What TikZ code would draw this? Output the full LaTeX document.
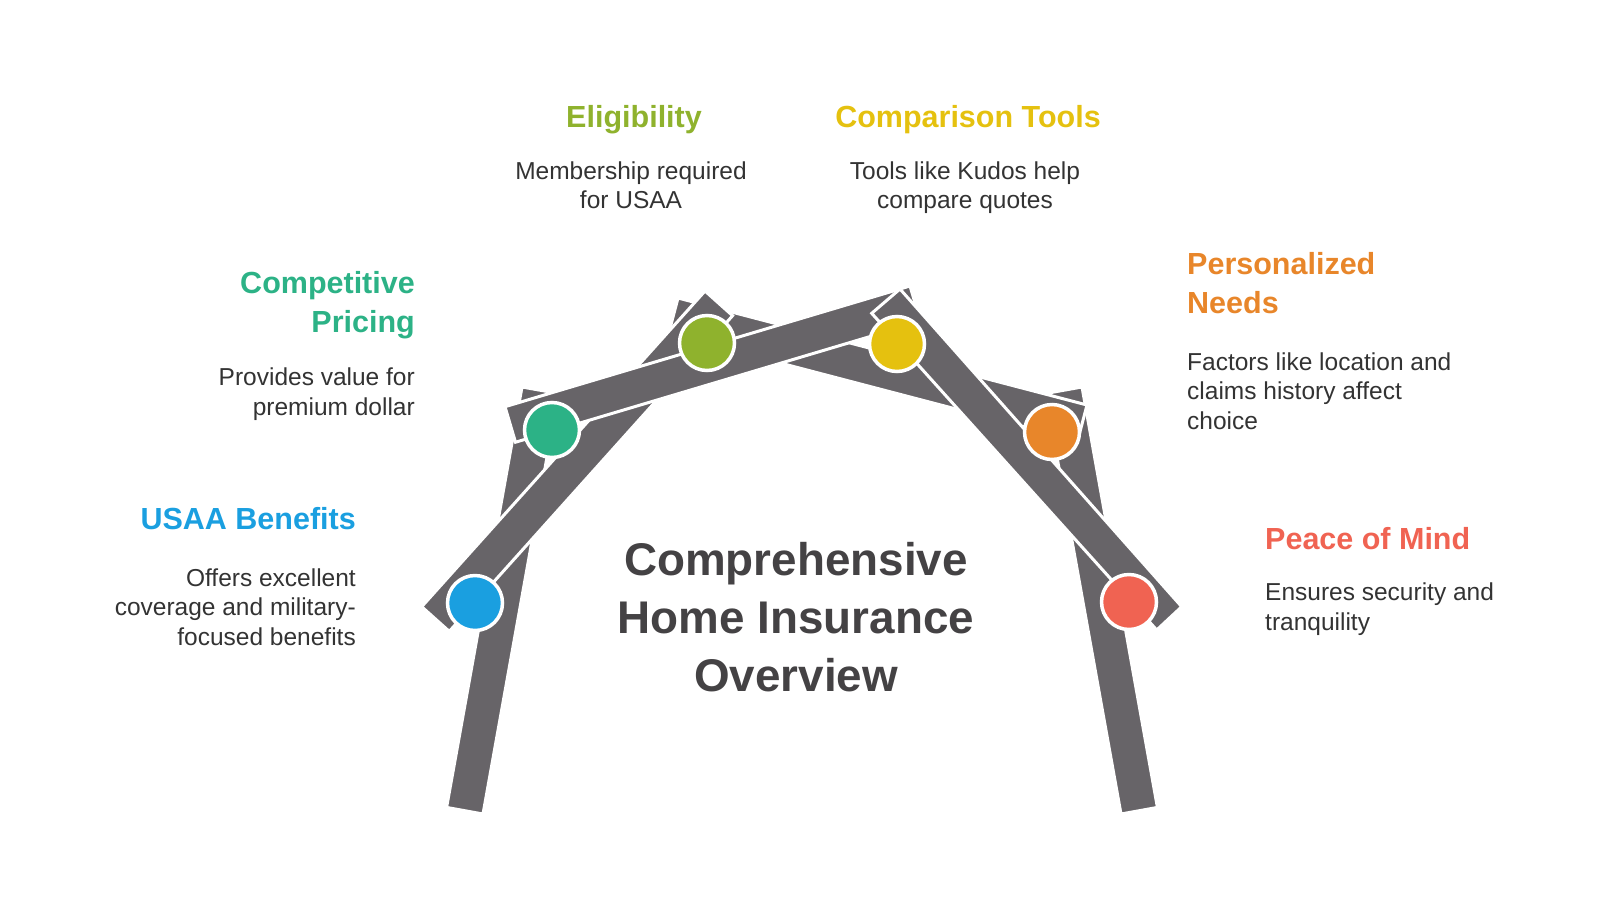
\documentclass[tikz,border=0pt]{standalone}
\usepackage{fontspec}
\setmainfont{Liberation Sans}
\usepackage{xcolor}
\usepackage{tikz}
\usetikzlibrary{positioning,calc}

\definecolor{barGray}{RGB}{103,100,104}
\definecolor{textGray}{RGB}{51,51,51}
\definecolor{titleGray}{RGB}{68,66,68}
\definecolor{cBlue}{RGB}{26,159,224}
\definecolor{cGreen}{RGB}{44,178,134}
\definecolor{cOlive}{RGB}{143,178,45}
\definecolor{cYellow}{RGB}{229,193,15}
\definecolor{cOrange}{RGB}{232,134,42}
\definecolor{cRed}{RGB}{240,99,82}

\begin{document}
\begin{tikzpicture}[x=1pt, y=-1pt,
    bar/.style={fill=barGray, draw=white, line width=3pt, line join=miter},
    dot/.style={circle, draw=white, line width=3.5pt, minimum size=55pt, inner sep=0pt},
    head/.style={font=\fontsize{30.5}{39}\selectfont\bfseries, inner sep=0pt},
    desc/.style={font=\fontsize{24.5}{29.3}\selectfont, text=textGray, inner sep=0pt}]
    \useasboundingbox (0,0) rectangle (1600,900);

    % Legs
    \draw[bar] (522,387) -- (558.4,393.5) -- (483,814) -- (446.6,807.4) -- cycle;
    \draw[bar] (1082,387) -- (1045.6,393.5) -- (1121,814) -- (1157.4,807.4) -- cycle;

    % Roof beams
    \draw[bar] (678,298) -- (1087,405) -- (1077.6,440.8) -- (668.6,333.8) -- cycle;
    \draw[bar] (421.7,606.7) -- (705,291) -- (732.6,315.7) -- (449.3,631.4) -- cycle;
    \draw[bar] (505,406.7) -- (910,286) -- (920.5,321.5) -- (515.5,442.2) -- cycle;
    \draw[bar] (900,289) -- (1181.7,606.7) -- (1156.7,630) -- (871.7,313.3) -- cycle;

    % Joints
    \node[dot, fill=cBlue] (benefits) at (475,603) {};
    \node[dot, fill=cGreen] (pricing) at (552,430) {};
    \node[dot, fill=cOlive] (eligibility) at (707,343) {};
    \node[dot, fill=cYellow] (tools) at (897,344) {};
    \node[dot, fill=cOrange] (needs) at (1052,432) {};
    \node[dot, fill=cRed] (peace) at (1129,602) {};

    % Title (base = last line)
    \node[font=\fontsize{45.8}{58.3}\selectfont\bfseries, text=titleGray, align=center, anchor=base, inner sep=0pt]
        (title) at (796,691.7) {Comprehensive\\Home Insurance\\Overview};

    % Labels
    \node[head, text=cOlive, anchor=base] (eligHead) at (634,127.5) {Eligibility};
    \node[desc, align=center, anchor=base] (eligText) at (631,208.5) {Membership required\\for USAA};

    \node[head, text=cYellow, anchor=base] (toolsHead) at (968,127.5) {Comparison Tools};
    \node[desc, align=center, anchor=base] (toolsText) at (965,208.5) {Tools like Kudos help\\compare quotes};

    \node[head, text=cGreen, align=right, anchor=base east] (pricingHead) at (415,332) {Competitive\\Pricing};
    \node[desc, align=right, anchor=base east] (pricingText) at (415,415) {Provides value for\\premium dollar};

    \node[head, text=cBlue, anchor=base east] (benefitsHead) at (356,529) {USAA Benefits};
    \node[desc, align=right, anchor=base east] (benefitsText) at (356,645) {Offers excellent\\coverage and military-\\focused benefits};

    \node[head, text=cOrange, align=left, anchor=base west] (needsHead) at (1187,313) {Personalized\\Needs};
    \node[desc, align=left, anchor=base west] (needsText) at (1187,429) {Factors like location and\\claims history affect\\choice};

    \node[head, text=cRed, anchor=base west] (peaceHead) at (1265,549) {Peace of Mind};
    \node[desc, align=left, anchor=base west] (peaceText) at (1265,630) {Ensures security and\\tranquility};
\end{tikzpicture}
\end{document}
